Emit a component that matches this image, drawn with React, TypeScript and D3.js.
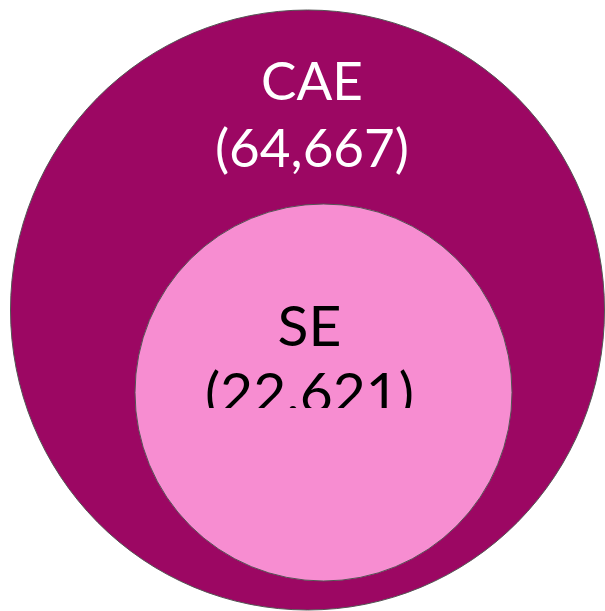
import React from "react";
import * as d3 from "d3";

const setNames = ["CAE", "SE"];
const setCounts = [64667, 22621];
const countLabels = ["(64,667)", "(22.621)"];

const W = 605;
const H = 611;

export default function App() {
  // layout of the nested sets (outer, inner)
  const centers = [
    { cx: 307.5, cy: 310, rx: 297, ry: 300 },
    { cx: 323.5, cy: 392.5, rx: 188.5, ry: 188.5 },
  ];
  const fills = ["#9C0763", "#F78DD1"];
  const textColors = ["#FFFFFF", "#000000"];
  const nameY = [100, 346];
  const countY = [167, 413];
  const textX = [312, 309.5];
  const fontSizes = [53, 57];
  const fmt = d3.format(",");
  return (
    <svg
      width={W}
      height={H}
      style={{ position: "absolute", left: 0, top: 0, background: "#fff" }}
      fontFamily="Lato, 'Open Sans', sans-serif"
    >
      <defs>
        <clipPath id="seclip">
          <rect x={0} y={0} width={W} height={408} />
        </clipPath>
      </defs>
      {setNames.map((n, i) => (
        <ellipse
          key={n}
          cx={centers[i].cx}
          cy={centers[i].cy}
          rx={centers[i].rx}
          ry={centers[i].ry}
          fill={fills[i]}
          stroke="#555"
          strokeWidth={1}
          data-count={fmt(setCounts[i])}
        />
      ))}
      {setNames.map((n, i) => (
        <g key={"t" + n} clipPath={i === 1 ? "url(#seclip)" : undefined}>
          <text
            x={textX[i]}
            y={nameY[i]}
            textAnchor="middle"
            fill={textColors[i]}
            fontSize={fontSizes[i]}
          >
            {n}
          </text>
          <text
            x={textX[i]}
            y={countY[i]}
            textAnchor="middle"
            fill={textColors[i]}
            fontSize={fontSizes[i]}
          >
            {countLabels[i]}
          </text>
        </g>
      ))}
    </svg>
  );
}
